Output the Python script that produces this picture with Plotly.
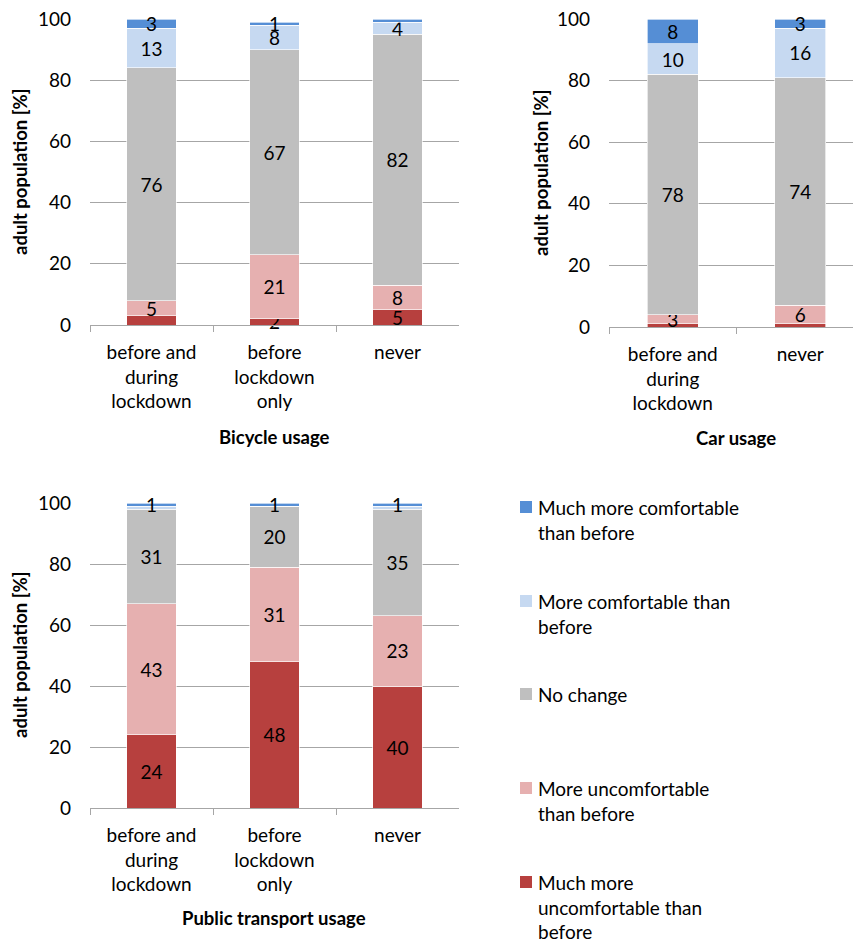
import plotly.graph_objects as go

# ---- data -------------------------------------------------------------
series_names = [
    "Much more<br>uncomfortable than<br>before",
    "More uncomfortable<br>than before",
    "No change",
    "More comfortable than<br>before",
    "Much more comfortable<br>than before",
]
series_colors = ["#B7403E", "#E6B0B0", "#BFBFBF", "#C6D9F1", "#558ED5"]

cats_three = ["before and<br>during<br>lockdown", "before<br>lockdown<br>only", "never"]
cats_car = ["before and<br>during<br>lockdown", "never"]

# Bicycle usage (bottom -> top of stack)
bike_much_uncomf = [3, 2, 5]
bike_uncomf = [5, 21, 8]
bike_no_change = [76, 67, 82]
bike_comf = [13, 8, 4]
bike_much_comf = [3, 1, 1]

# Car usage
car_much_uncomf = [1, 1]
car_uncomf = [3, 6]
car_no_change = [78, 74]
car_comf = [10, 16]
car_much_comf = [8, 3]

# Public transport usage
pt_much_uncomf = [24, 48, 40]
pt_uncomf = [43, 31, 23]
pt_no_change = [31, 20, 35]
pt_comf = [1, 0, 1]
pt_much_comf = [1, 1, 1]

# data labels that are left unprinted: (series index, category index)
bike_unlabelled = {(0, 0), (4, 2)}
car_unlabelled = {(0, 0), (0, 1)}
pt_unlabelled = {(3, 0), (3, 1), (3, 2)}

y_ticks = [0, 20, 40, 60, 80, 100]

# ---- geometry helpers -------------------------------------------------
W, H = 853, 943
FONT = "Lato"
GRID = "#A6A6A6"


def px_x(v):
    return v / W


def px_y(v):
    return 1 - v / H


fig = go.Figure()


def add_stack(values_list, cats, unlabelled, xa, ya, show_legend=False):
    for si, vals in enumerate(values_list):
        text = ["" if (si, ci) in unlabelled else str(v) for ci, v in enumerate(vals)]
        fig.add_trace(go.Bar(
            x=cats, y=vals, name=series_names[si],
            marker=dict(color=series_colors[si], line=dict(color="rgba(255,255,255,0.8)", width=0.8)),
            width=0.4, text=text, textposition="inside", insidetextanchor="middle",
            textangle=0, constraintext="none", cliponaxis=False,
            textfont=dict(family=FONT, size=19, color="black"),
            xaxis=xa, yaxis=ya, showlegend=show_legend, hoverinfo="x+y+name",
        ))


add_stack([bike_much_uncomf, bike_uncomf, bike_no_change, bike_comf, bike_much_comf],
          cats_three, bike_unlabelled, "x", "y")
add_stack([car_much_uncomf, car_uncomf, car_no_change, car_comf, car_much_comf],
          cats_car, car_unlabelled, "x2", "y2")
add_stack([pt_much_uncomf, pt_uncomf, pt_no_change, pt_comf, pt_much_comf],
          cats_three, pt_unlabelled, "x3", "y3")


def xaxis_style(dom, rng):
    return dict(
        domain=dom, range=rng, type="category", tickson="boundaries", ticks="outside",
        ticklen=6, tickcolor=GRID, showline=True, linecolor=GRID, linewidth=1,
        showgrid=False, tickfont=dict(family=FONT, size=19, color="black"),
        ticklabelstandoff=10, fixedrange=True, automargin=False,
    )


def yaxis_style(dom, anchor):
    return dict(
        domain=dom, range=[0, 100], tickvals=y_ticks, showgrid=True, gridcolor=GRID,
        gridwidth=1, showline=False, zeroline=False, ticks="",
        tickfont=dict(family=FONT, size=19, color="black"), ticklabelstandoff=18,
        anchor=anchor, fixedrange=True, automargin=False,
    )


fig.update_layout(
    width=W, height=H, margin=dict(l=0, r=0, t=0, b=0),
    paper_bgcolor="white", plot_bgcolor="white", barmode="stack",
    showlegend=False, bargap=0.6,
    uniformtext=dict(minsize=19, mode="show"),
    xaxis=dict(xaxis_style([px_x(90), px_x(459)], [-0.5, 2.5]), anchor="y"),
    yaxis=yaxis_style([px_y(325), px_y(19)], "x"),
    xaxis2=dict(xaxis_style([px_x(609), 1.0], [-0.5, 1.414]), anchor="y2"),
    yaxis2=yaxis_style([px_y(327), px_y(19)], "x2"),
    xaxis3=dict(xaxis_style([px_x(90), px_x(459)], [-0.5, 2.5]), anchor="y3"),
    yaxis3=yaxis_style([px_y(808), px_y(503)], "x3"),
)

# ---- axis titles ------------------------------------------------------
title_font = dict(family=FONT, size=18.5, color="black", weight="bold")
annotations = [
    dict(text="adult population [%]", x=px_x(20), y=px_y(172), textangle=-90),
    dict(text="adult population [%]", x=px_x(541), y=px_y(173), textangle=-90),
    dict(text="adult population [%]", x=px_x(20), y=px_y(655), textangle=-90),
    dict(text="Bicycle usage", x=px_x(274), y=px_y(437)),
    dict(text="Car usage", x=px_x(736), y=px_y(438)),
    dict(text="Public transport usage", x=px_x(274), y=px_y(918)),
]
for a in annotations:
    fig.add_annotation(xref="paper", yref="paper", showarrow=False,
                       xanchor="center", yanchor="middle", font=title_font, **a)

# ---- legend -----------------------------------------------------------
legend_rows = [507, 601, 694, 788, 882]
for row, si in zip(legend_rows, [4, 3, 2, 1, 0]):
    fig.add_shape(type="rect", xref="paper", yref="paper",
                  x0=px_x(520), x1=px_x(532), y0=px_y(row + 6), y1=px_y(row - 6),
                  fillcolor=series_colors[si], line=dict(width=0))
    fig.add_annotation(xref="paper", yref="paper", showarrow=False,
                       x=px_x(536), y=px_y(row - 13), xanchor="left", yanchor="top",
                       align="left", text=series_names[si],
                       font=dict(family=FONT, size=19, color="black"))

fig.write_html("out.html")
